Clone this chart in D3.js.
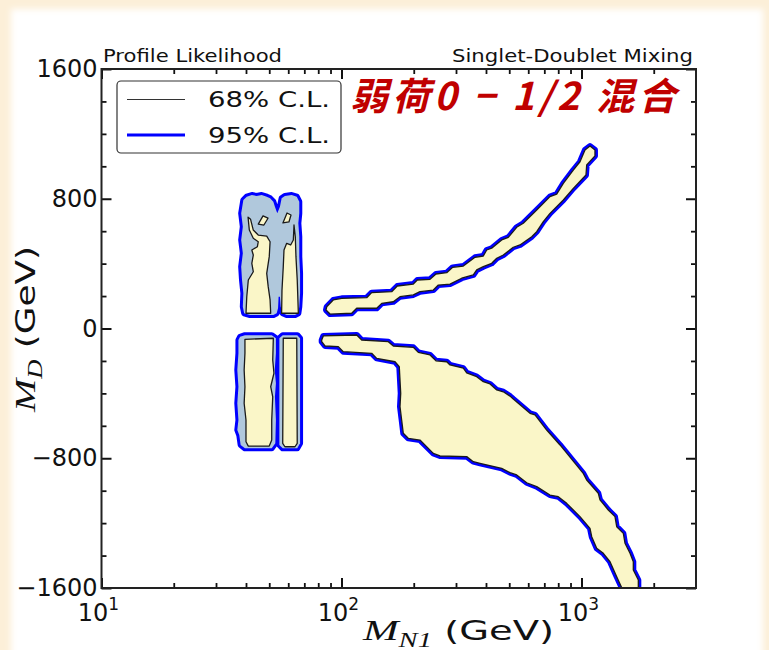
<!DOCTYPE html>
<html>
<head>
<meta charset="utf-8">
<script src="https://cdn.jsdelivr.net/npm/d3@7"></script>
<style>
  html, body { margin: 0; padding: 0; background: #fcefd8; }
  svg { display: block; }
</style>
</head>
<body>
<script>
// contour outlines: [M_N1 (GeV), M_D (GeV)]
const upperLeft95 = [
  [39.0, 792], [40.3, 813], [42.3, 823], [44.3, 817], [46.5, 823], [48.8, 813], [50.4, 803], [52.0, 782],
  [52.8, 751], [54.0, 710], [55.4, 751], [56.3, 803], [58.1, 817], [62.0, 823], [65.1, 813], [66.7, 782],
  [66.7, 710], [66.1, 649], [66.7, 566], [66.7, 443], [67.2, 340], [67.2, 217], [66.7, 134], [66.1, 94],
  [64.0, 83], [59.1, 83], [56.9, 94], [55.8, 134], [55.4, 196], [54.7, 196], [54.4, 125], [53.7, 94],
  [52.0, 83], [41.6, 83], [39.3, 94], [38.8, 134], [39.0, 217], [38.5, 299], [38.2, 381], [38.8, 464],
  [38.2, 546], [38.8, 628], [38.2, 710], [38.8, 772]
];
const upperLeft68a = [
  [40.0, 94], [40.3, 196], [40.9, 299], [42.9, 350], [42.3, 402], [42.9, 453], [42.3, 484], [44.6, 504],
  [45.0, 535], [42.9, 556], [41.3, 607], [40.8, 686], [41.8, 673], [42.9, 607], [45.0, 576], [48.8, 570],
  [50.4, 535], [50.0, 443], [48.8, 340], [49.5, 258], [50.4, 176], [50.7, 94]
];
const upperLeft68b = [
  [56.3, 94], [56.5, 237], [57.2, 381], [57.6, 484], [59.1, 525], [61.4, 515], [63.0, 546], [63.4, 638],
  [64.2, 566], [64.6, 443], [65.4, 299], [66.1, 94]
];
const upperLeft68c = [[45.0, 644], [47.1, 694], [49.4, 680], [47.5, 638]];
const upperLeft68d = [[57.0, 651], [59.3, 712], [61.6, 700], [60.4, 657]];

const lowerLeft95a = [
  [37.8, -51], [39.6, -41], [51.2, -41], [53.3, -60], [53.3, -153], [52.7, -256], [53.3, -338], [52.8, -421],
  [53.3, -564], [53.0, -708], [51.2, -739], [39.6, -739], [38.0, -718], [37.5, -657], [36.8, -626], [37.2, -564],
  [36.8, -461], [37.2, -359], [36.8, -256], [37.2, -153], [37.2, -71]
];
const lowerLeft95b = [
  [55.1, -60], [56.9, -41], [65.4, -41], [67.2, -60], [67.2, -708], [65.4, -739], [56.9, -739], [55.1, -718]
];
const lowerLeft68a = [
  [39.6, -67], [52.0, -60], [51.7, -194], [52.3, -276], [50.7, -359], [51.7, -421], [51.2, -564], [51.2, -688],
  [50.0, -725], [40.9, -725], [40.0, -698], [40.0, -564], [39.3, -461], [39.6, -359], [39.3, -256], [39.6, -153]
];
const lowerLeft68b = [
  [57.2, -60], [65.1, -60], [65.4, -708], [64.0, -729], [58.1, -729], [56.9, -708]
];

const upperBranch = [
  [86.8, 134], [92.4, 176], [100.2, 186], [127.4, 190], [133.6, 221], [161.9, 227], [170.8, 262], [199.2, 274],
  [206.9, 299], [233.8, 303], [247.6, 336], [274.4, 344], [290.6, 377], [321.8, 385], [360, 439], [389.8, 447],
  [402.7, 484], [422.5, 495], [465, 546], [495.5, 562], [537, 624], [572.1, 649], [650.7, 731], [739.2, 813],
  [788.2, 829], [840, 895], [924.4, 977], [985.8, 1028], [1034, 1101], [1085, 1125], [1138, 1101],
  [1138, 1064], [1051, 1008], [1044, 946], [924.4, 864], [840, 792], [739.2, 710], [693.3, 659], [650.7, 597],
  [620.2, 566], [554.2, 515], [519.7, 501], [472.3, 453], [443.4, 433], [422.5, 402], [389.8, 381], [365.9, 361],
  [354.2, 330], [316.8, 310], [283.2, 274], [253.2, 268], [241.3, 237], [212.3, 227], [199.2, 207], [175.3, 196],
  [164.4, 165], [147.1, 155], [140.2, 125], [115.7, 125], [110.3, 94], [89.6, 89], [86.2, 114]
];

const lowerBranch = [
  [82.7, -71], [84.0, -46], [115.7, -40], [121.4, -71], [156.7, -81], [164.4, -108], [199.2, -116], [208.9, -147],
  [233.8, -163], [247.6, -199], [274.4, -205], [283.2, -225], [321.8, -245], [332.4, -273], [365.9, -297],
  [389.8, -328], [415.8, -342], [443.4, -379], [472.3, -390], [503.7, -417], [519.7, -435], [610.2, -523],
  [640.2, -533], [716.1, -626], [813.7, -718], [1017, -893], [1051, -934], [1175, -1016], [1194, -1057],
  [1293, -1119], [1379, -1160], [1402, -1222], [1494, -1263], [1518, -1324], [1593, -1386], [1644, -1438],
  [1644, -1489], [1725, -1551], [1725, -1620], [1494, -1620],
  [1402, -1530], [1315, -1438], [1233, -1386], [1157, -1355], [1103, -1284], [1085, -1232], [985.8, -1160],
  [867.7, -1078], [800.3, -1037], [739.2, -1027], [650.7, -975], [591.1, -951], [537, -903], [503.7, -889],
  [465, -862], [377.7, -831], [354.2, -821], [332.4, -790], [257.3, -786], [241.3, -770], [212.3, -688],
  [189.8, -677], [180.9, -646], [178.1, -564], [175.3, -482], [176.5, -400], [174.1, -236], [167.1, -205],
  [140.2, -184], [133.6, -153], [101.7, -143], [97.0, -112], [85.4, -108], [82.7, -81]
];

const cl95Regions = [upperLeft95, lowerLeft95a, lowerLeft95b, upperBranch, lowerBranch];
const cl68Regions = [upperLeft68a, upperLeft68b, upperLeft68c, upperLeft68d,
  lowerLeft68a, lowerLeft68b, upperBranch, lowerBranch];

// axes
const xDomain = [10, 3000];
const yDomain = [-1600, 1600];
const xMajorTicks = [10, 100, 1000];
const xTickExponents = ['1', '2', '3'];
const xMinorTicks = [20, 30, 40, 50, 60, 70, 80, 90, 200, 300, 400, 500, 600, 700, 800, 900, 2000];
const yMajorTicks = [-1600, -800, 0, 800, 1600];
const yMinorTicks = [-1400, -1200, -1000, -600, -400, -200, 200, 400, 600, 1000, 1200, 1400];
const legendLabels = ['68% C.L.', '95% C.L.'];

const width = 769, height = 650;
const margin = { top: 69, right: 73, bottom: 62, left: 101.5 };
const plotW = width - margin.left - margin.right;
const plotH = height - margin.top - margin.bottom;

const x = d3.scaleLog().domain(xDomain).range([margin.left, margin.left + plotW]);
const y = d3.scaleLinear().domain(yDomain).range([margin.top + plotH, margin.top]);

const svg = d3.select('body').append('svg')
  .attr('width', width)
  .attr('height', height);

// slide-like background
const defs = svg.append('defs');
defs.append('filter').attr('id', 'soft').append('feGaussianBlur').attr('stdDeviation', 3);
defs.append('clipPath').attr('id', 'plotClip').append('rect')
  .attr('x', margin.left).attr('y', margin.top).attr('width', plotW).attr('height', plotH);

svg.append('rect').attr('width', width).attr('height', height).attr('fill', '#fcefd8');
svg.append('rect').attr('x', 11).attr('y', 9).attr('width', 752).attr('height', 660)
  .attr('fill', '#ffffff').attr('filter', 'url(#soft)');

// contours
const line = d3.line().x(d => x(d[0])).y(d => y(d[1])).curve(d3.curveLinearClosed);
const cg = svg.append('g').attr('clip-path', 'url(#plotClip)');

cg.selectAll('path.edge95').data(cl95Regions).join('path')
  .attr('class', 'edge95')
  .attr('d', line)
  .attr('fill', 'none')
  .attr('stroke', '#0000ff')
  .attr('stroke-width', 6)
  .attr('stroke-linejoin', 'round');

cg.selectAll('path.fill95').data(cl95Regions).join('path')
  .attr('class', 'fill95')
  .attr('d', line)
  .attr('fill', '#b0c8dc');

cg.selectAll('path.fill68').data(cl68Regions).join('path')
  .attr('class', 'fill68')
  .attr('d', line)
  .attr('fill', '#faf6c8')
  .attr('stroke', '#1a1a1a')
  .attr('stroke-width', 1.3)
  .attr('stroke-linejoin', 'round');

// ticks, all pointing inwards
function tickAxis(axis, scale, values, size, transform, sw) {
  const g = svg.append('g')
    .attr('transform', transform)
    .call(axis(scale).tickValues(values).tickSizeInner(-size).tickSizeOuter(0).tickFormat(''));
  g.select('.domain').remove();
  g.selectAll('line').attr('stroke', '#111').attr('stroke-width', sw);
}
const bottom = margin.top + plotH, right = margin.left + plotW;
tickAxis(d3.axisBottom, x, xMajorTicks, 10, `translate(0,${bottom})`, 2);
tickAxis(d3.axisBottom, x, xMinorTicks, 5, `translate(0,${bottom})`, 1.8);
tickAxis(d3.axisTop, x, xMajorTicks, 10, `translate(0,${margin.top})`, 2);
tickAxis(d3.axisTop, x, xMinorTicks, 5, `translate(0,${margin.top})`, 1.8);
tickAxis(d3.axisLeft, y, yMajorTicks, 10, `translate(${margin.left},0)`, 2);
tickAxis(d3.axisLeft, y, yMinorTicks, 5, `translate(${margin.left},0)`, 1.8);
tickAxis(d3.axisRight, y, yMajorTicks, 10, `translate(${right},0)`, 2);
tickAxis(d3.axisRight, y, yMinorTicks, 5, `translate(${right},0)`, 1.8);

svg.append('rect')
  .attr('x', margin.left).attr('y', margin.top).attr('width', plotW).attr('height', plotH)
  .attr('fill', 'none').attr('stroke', '#222').attr('stroke-width', 2);

// tick labels
const sans = '"DejaVu Sans", sans-serif';
svg.append('g').selectAll('text').data(yMajorTicks).join('text')
  .attr('x', margin.left - 4)
  .attr('y', d => y(d))
  .attr('dy', '0.34em')
  .attr('text-anchor', 'end')
  .attr('font-family', sans)
  .attr('font-size', 24)
  .attr('fill', '#111')
  .text(d => d < 0 ? '\u2212' + Math.abs(d) : String(d));

const xl = svg.append('g').selectAll('text').data(xMajorTicks).join('text')
  .attr('x', d => x(d) - 3)
  .attr('y', bottom + 33)
  .attr('text-anchor', 'middle')
  .attr('font-family', sans)
  .attr('font-size', 24)
  .attr('fill', '#111');
xl.append('tspan').text('10');
xl.append('tspan').attr('dy', -11).attr('font-size', 17).text((d, i) => xTickExponents[i]);

// axis titles
const serif = '"Liberation Serif", "DejaVu Serif", serif';
const xt = svg.append('text')
  .attr('x', 363).attr('y', 640)
  .attr('font-family', sans).attr('font-size', 27).attr('fill', '#111')
  .attr('textLength', 191).attr('lengthAdjust', 'spacingAndGlyphs');
xt.append('tspan').attr('font-family', serif).attr('font-style', 'italic').attr('font-size', 30).text('M');
xt.append('tspan').attr('font-family', serif).attr('font-style', 'italic').attr('font-size', 20).attr('dy', 7).text('N1');
xt.append('tspan').attr('dy', -7).text(' (GeV)');

const yt = svg.append('text')
  .attr('transform', 'translate(35,412) rotate(-90)')
  .attr('font-family', sans).attr('font-size', 27).attr('fill', '#111')
  .attr('textLength', 166).attr('lengthAdjust', 'spacingAndGlyphs');
yt.append('tspan').attr('font-family', serif).attr('font-style', 'italic').attr('font-size', 30).text('M');
yt.append('tspan').attr('font-family', serif).attr('font-style', 'italic').attr('font-size', 20).attr('dy', 7).text('D');
yt.append('tspan').attr('dy', -7).text(' (GeV)');

// headers
svg.append('text').attr('x', 103).attr('y', 62)
  .attr('font-family', sans).attr('font-size', 17).attr('fill', '#111')
  .attr('textLength', 179).attr('lengthAdjust', 'spacingAndGlyphs')
  .text('Profile Likelihood');
svg.append('text').attr('x', 452).attr('y', 62)
  .attr('font-family', sans).attr('font-size', 17).attr('fill', '#111')
  .attr('textLength', 241).attr('lengthAdjust', 'spacingAndGlyphs')
  .text('Singlet-Doublet Mixing');

svg.append('text').attr('x', 350).attr('y', 110)
  .attr('font-family', '"Noto Sans CJK SC", sans-serif')
  .attr('font-weight', 'bold').attr('font-style', 'italic')
  .attr('font-size', 38).attr('fill', '#c00000')
  .attr('textLength', 326).attr('lengthAdjust', 'spacing')
  .text('弱荷0 \u2212 1/2 混合');

// legend
const lg = svg.append('g');
lg.append('rect').attr('x', 117).attr('y', 81).attr('width', 224).attr('height', 72).attr('rx', 4)
  .attr('fill', '#fff').attr('stroke', '#333').attr('stroke-width', 1.2);
const legendStyles = [{ c: '#333', w: 1.2 }, { c: '#0000ff', w: 3 }];
legendLabels.forEach((lab, i) => {
  const ly = 99.5 + i * 35.5;
  lg.append('line').attr('x1', 127).attr('x2', 185).attr('y1', ly).attr('y2', ly)
    .attr('stroke', legendStyles[i].c).attr('stroke-width', legendStyles[i].w);
  lg.append('text').attr('x', 208).attr('y', ly + 7.5)
    .attr('font-family', sans).attr('font-size', 21).attr('fill', '#111')
    .attr('textLength', 122).attr('lengthAdjust', 'spacingAndGlyphs')
    .text(lab);
});
</script>
</body>
</html>
